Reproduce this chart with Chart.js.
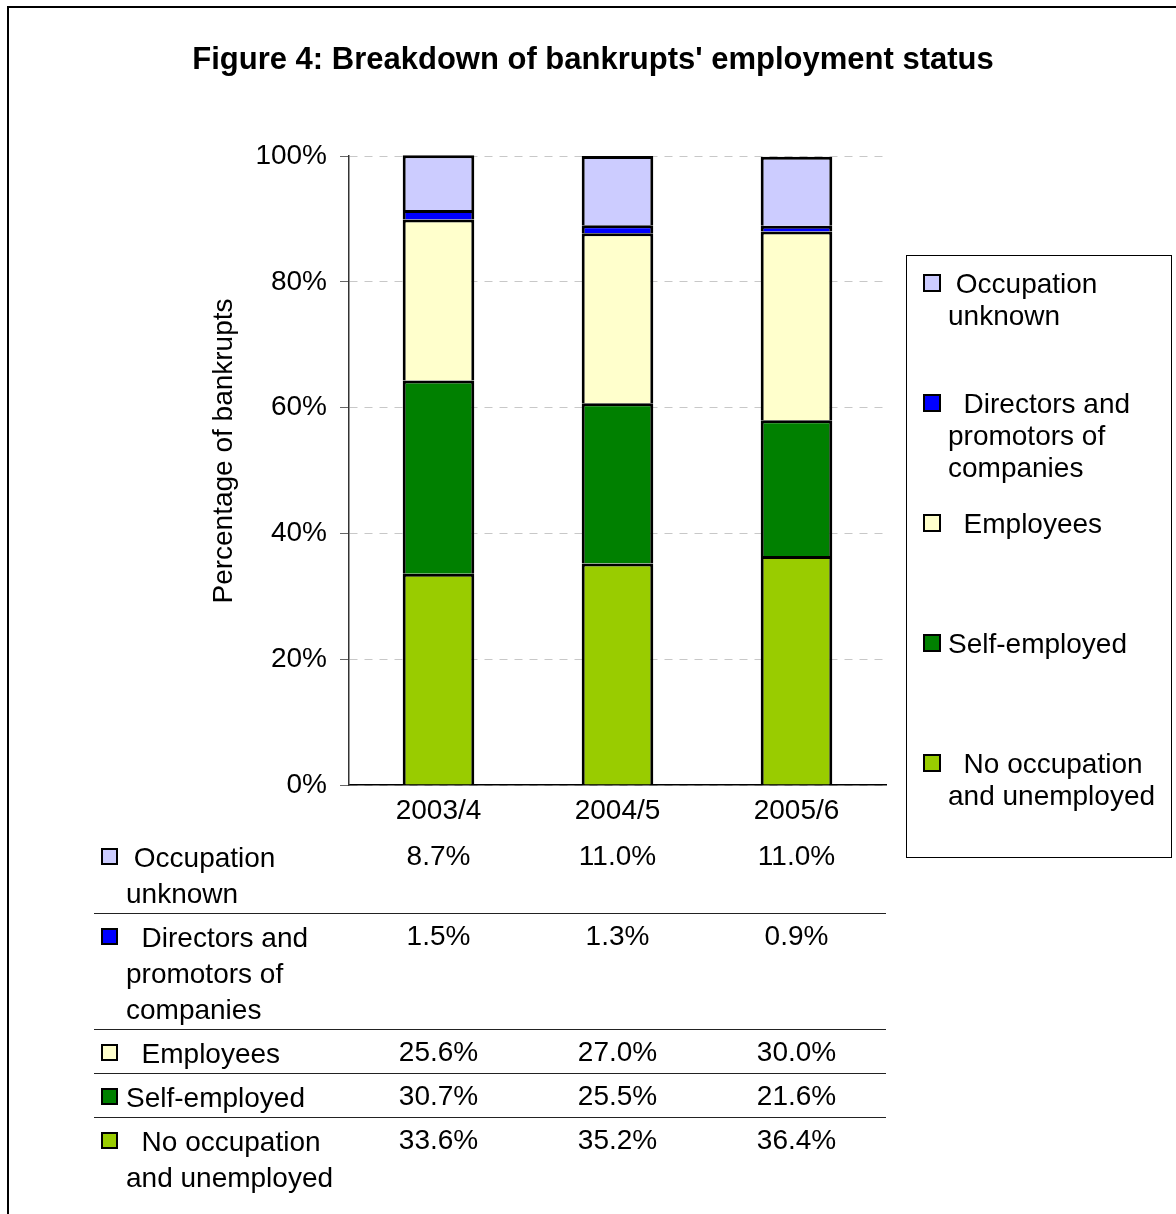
<!DOCTYPE html>
<html>
<head>
<meta charset="utf-8">
<script src="https://cdn.jsdelivr.net/npm/chart.js@4.4.1/dist/chart.umd.min.js"></script>
<style>
  html, body { margin: 0; padding: 0; background: #fff; }
  canvas { display: block; }
</style>
</head>
<body>
<canvas id="chart-employment" width="1176" height="1214"></canvas>
<script>
const years = ['2003/4', '2004/5', '2005/6'];
const noOccupation = [33.6, 35.2, 36.4];
const selfEmployed = [30.7, 25.5, 21.6];
const employees = [25.6, 27.0, 30.0];
const directors = [1.5, 1.3, 0.9];
const occupationUnknown = [8.7, 11.0, 11.0];
const yTicks = [0, 20, 40, 60, 80, 100];

// label text split the way it wraps in the legend and the table
const noOccupationLines = ['  No occupation', 'and unemployed'];
const selfEmployedLines = ['Self-employed'];
const employeesLines = ['  Employees'];
const directorsLines = ['  Directors and', 'promotors of', 'companies'];
const occupationUnknownLines = [' Occupation', 'unknown'];

const FONT = '"Liberation Sans", Arial, sans-serif';

function series(lines, data, color) {
  return {
    label: lines.map(s => s.trim()).join(' '),
    lines,
    data,
    backgroundColor: color,
    borderColor: '#000',
    borderWidth: 3,
    borderSkipped: 'start',   // segment below supplies the shared edge
    categoryPercentage: 1,
    barPercentage: 0.4,
    clip: false
  };
}

function drawKey(ctx, x, y, size, color) {
  ctx.fillStyle = color;
  ctx.fillRect(x, y, size, size);
  ctx.lineWidth = 2;
  ctx.strokeStyle = '#000';
  ctx.strokeRect(x, y, size, size);
}

const pageDecor = {
  id: 'pageDecor',
  afterDraw(chart) {
    const { ctx, chartArea, scales: { x } } = chart;
    const rows = chart.data.datasets.slice().reverse();
    ctx.save();

    // outer frame
    ctx.lineWidth = 2;
    ctx.strokeStyle = '#000';
    ctx.strokeRect(8, 7, 1180, 1220);

    // title
    ctx.fillStyle = '#000';
    ctx.textAlign = 'center';
    ctx.textBaseline = 'middle';
    ctx.font = `bold 31px ${FONT}`;
    ctx.fillText("Figure 4: Breakdown of bankrupts' employment status", 593, 60);

    // y axis title
    ctx.save();
    ctx.translate(224, 451);
    ctx.rotate(-Math.PI / 2);
    ctx.font = `28px ${FONT}`;
    ctx.fillText('Percentage of bankrupts', 0, 0);
    ctx.restore();

    // legend box on the right
    ctx.lineWidth = 1;
    ctx.strokeStyle = '#000';
    ctx.strokeRect(906.5, 255.5, 265, 602);
    ctx.font = `28px ${FONT}`;
    ctx.textAlign = 'left';
    rows.forEach((ds, i) => {
      const cy = 285 + i * 120;
      drawKey(ctx, 924, cy - 10, 16, ds.backgroundColor);
      ctx.fillStyle = '#000';
      ds.lines.forEach((t, j) => ctx.fillText(t, 948, cy + j * 32));
    });

    // data table under the axis
    let top = 833;
    rows.forEach((ds, i) => {
      const cy = top + 26;
      drawKey(ctx, 102, cy - 10, 15, ds.backgroundColor);
      ctx.fillStyle = '#000';
      ctx.textAlign = 'left';
      ds.lines.forEach((t, j) => ctx.fillText(t, 126, cy + j * 36));
      ctx.textAlign = 'center';
      ds.data.forEach((v, k) => ctx.fillText(v.toFixed(1) + '%', x.getPixelForValue(k), cy - 2));
      top += ds.lines.length * 36 + 8;
      if (i < rows.length - 1) {
        ctx.beginPath();
        ctx.lineWidth = 1;
        ctx.strokeStyle = '#222';
        ctx.moveTo(94, Math.round(top) + 0.5);
        ctx.lineTo(chartArea.right, Math.round(top) + 0.5);
        ctx.stroke();
      }
    });

    ctx.restore();
  }
};

new Chart(document.getElementById('chart-employment'), {
  type: 'bar',
  data: {
    labels: years,
    datasets: [
      series(noOccupationLines, noOccupation, '#99CC00'),
      series(selfEmployedLines, selfEmployed, '#008000'),
      series(employeesLines, employees, '#FFFFCC'),
      series(directorsLines, directors, '#0000FF'),
      series(occupationUnknownLines, occupationUnknown, '#CCCCFF')
    ]
  },
  options: {
    responsive: false,
    animation: false,
    devicePixelRatio: 1,
    layout: { padding: { left: 200, top: 156, right: 290, bottom: 379 } },
    plugins: {
      legend: { display: false },
      title: { display: false },
      tooltip: { enabled: false }
    },
    scales: {
      x: {
        stacked: true,
        grid: { display: false },
        border: { color: '#000', width: 1.5 },
        ticks: { color: '#000', padding: 1, font: { family: FONT, size: 28 } },
        afterFit(scale) { scale.height = 50; }
      },
      y: {
        stacked: true,
        min: 0,
        max: 100,
        afterBuildTicks(scale) { scale.ticks = yTicks.map(v => ({ value: v })); },
        grid: {
          color: '#c8c8c8',
          lineWidth: 1,
          tickLength: 9,
          tickColor: '#666',
          tickBorderDash: []
        },
        border: { color: '#333', width: 1.5, dash: [8, 7] },
        ticks: {
          color: '#000',
          padding: 13,
          font: { family: FONT, size: 28 },
          callback: v => v + '%'
        },
        afterFit(scale) { scale.width = 149; }
      }
    }
  },
  plugins: [pageDecor]
});
</script>
</body>
</html>
